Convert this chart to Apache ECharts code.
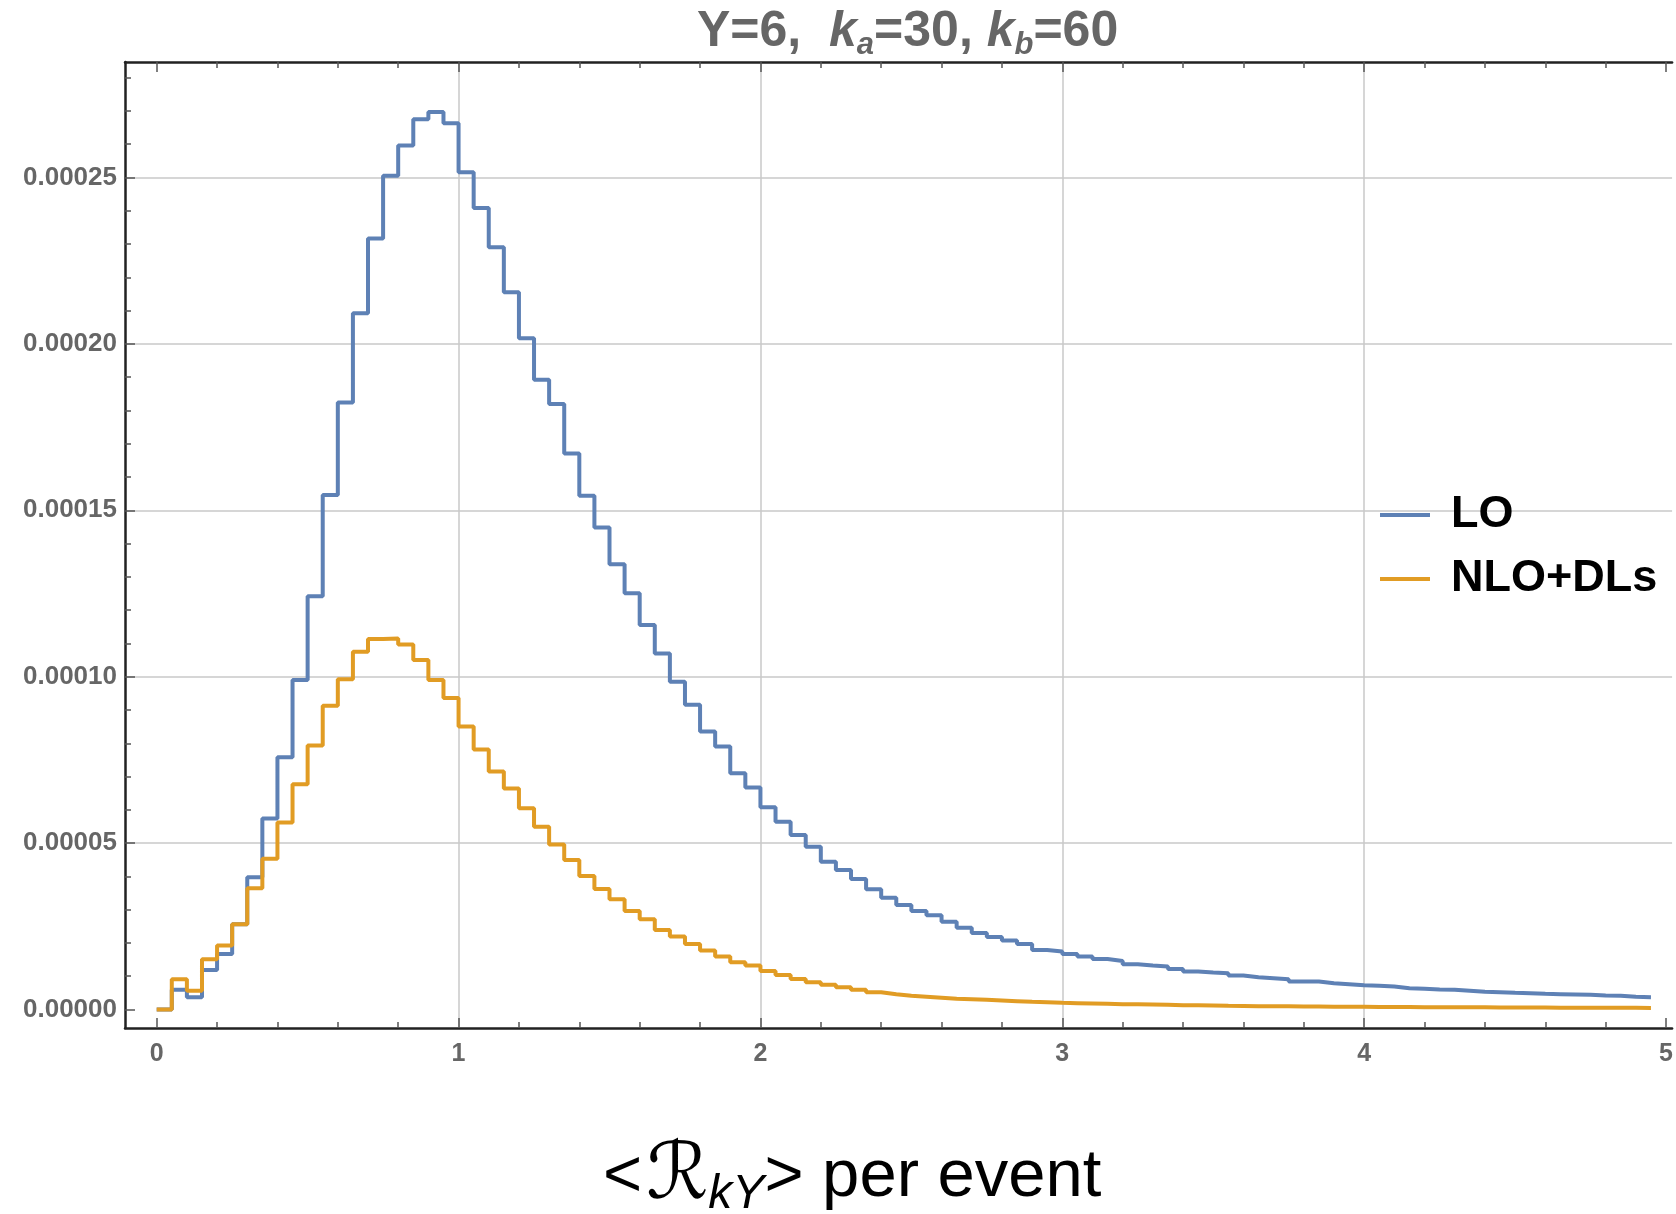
<!DOCTYPE html>
<html>
<head>
<meta charset="utf-8">
<script src="https://cdn.jsdelivr.net/npm/echarts@6/dist/echarts.min.js"></script>
<style>
html, body { margin: 0; padding: 0; background: #fff; }
#chart { width: 1676px; height: 1214px; }
</style>
</head>
<body>
<div id="chart"></div>
<script>
// histogram bin left edges (last entry closes the final bin)
var binEdges = [0, 0.05, 0.1, 0.15, 0.2, 0.25, 0.3, 0.35, 0.4, 0.45,
    0.5, 0.55, 0.6, 0.65, 0.7, 0.75, 0.8, 0.85, 0.9, 0.95,
    1, 1.05, 1.1, 1.15, 1.2, 1.25, 1.3, 1.35, 1.4, 1.45,
    1.5, 1.55, 1.6, 1.65, 1.7, 1.75, 1.8, 1.85, 1.9, 1.95,
    2, 2.05, 2.1, 2.15, 2.2, 2.25, 2.3, 2.35, 2.4, 2.45,
    2.5, 2.55, 2.6, 2.65, 2.7, 2.75, 2.8, 2.85, 2.9, 2.95,
    3, 3.05, 3.1, 3.15, 3.2, 3.25, 3.3, 3.35, 3.4, 3.45,
    3.5, 3.55, 3.6, 3.65, 3.7, 3.75, 3.8, 3.85, 3.9, 3.95,
    4, 4.05, 4.1, 4.15, 4.2, 4.25, 4.3, 4.35, 4.4, 4.45,
    4.5, 4.55, 4.6, 4.65, 4.7, 4.75, 4.8, 4.85, 4.9, 4.95];

// values in units of 1e-5
var loValues = [0, 0.59, 0.37, 1.19, 1.67, 2.56, 3.97, 5.74, 7.58, 9.90,
    12.42, 15.46, 18.24, 20.92, 23.17, 25.05, 25.96, 26.75, 26.97, 26.63,
    25.16, 24.08, 22.90, 21.55, 20.17, 18.92, 18.19, 16.71, 15.44, 14.48,
    13.38, 12.51, 11.55, 10.70, 9.85, 9.16, 8.35, 7.90, 7.10, 6.67,
    6.08, 5.64, 5.24, 4.89, 4.44, 4.19, 3.92, 3.61, 3.36, 3.14,
    2.96, 2.83, 2.64, 2.46, 2.30, 2.18, 2.07, 1.97, 1.79, 1.74,
    1.67, 1.59, 1.52, 1.46, 1.36, 1.32, 1.29, 1.22, 1.14, 1.11,
    1.09, 1.02, 0.97, 0.94, 0.91, 0.84, 0.84, 0.79, 0.76, 0.73,
    0.71, 0.69, 0.64, 0.62, 0.60, 0.59, 0.56, 0.53, 0.52, 0.50,
    0.49, 0.47, 0.46, 0.45, 0.44, 0.42, 0.41, 0.38, 0.37];

var nloValues = [0, 0.91, 0.56, 1.51, 1.92, 2.56, 3.64, 4.53, 5.62, 6.77,
    7.93, 9.13, 9.92, 10.75, 11.13, 11.15, 10.97, 10.50, 9.90, 9.36,
    8.50, 7.81, 7.15, 6.64, 6.05, 5.49, 4.96, 4.49, 4.01, 3.62,
    3.31, 2.96, 2.71, 2.39, 2.19, 1.97, 1.77, 1.59, 1.42, 1.32,
    1.16, 1.04, 0.92, 0.82, 0.74, 0.67, 0.59, 0.52, 0.46, 0.41,
    0.38, 0.35, 0.32, 0.31, 0.29, 0.27, 0.25, 0.23, 0.22, 0.20,
    0.19, 0.18, 0.17, 0.16, 0.155, 0.15, 0.14, 0.13, 0.125, 0.12,
    0.11, 0.105, 0.10, 0.10, 0.095, 0.09, 0.09, 0.085, 0.08, 0.08,
    0.078, 0.075, 0.073, 0.07, 0.07, 0.068, 0.066, 0.065, 0.063, 0.06,
    0.06, 0.058, 0.056, 0.055, 0.054, 0.052, 0.05, 0.05, 0.048];

var seriesNames = ['LO', 'NLO+DLs'];

var xMajorTicks = [0, 1, 2, 3, 4, 5];
var xMinorTicks = [0.2, 0.4, 0.6, 0.8, 1.2, 1.4, 1.6, 1.8, 2.2, 2.4, 2.6, 2.8,
    3.2, 3.4, 3.6, 3.8, 4.2, 4.4, 4.6, 4.8];
var xGridLines = [1, 2, 3, 4];
var yMajorTicks = [0, 5, 10, 15, 20, 25];
var yMinorTicks = [1, 2, 3, 4, 6, 7, 8, 9, 11, 12, 13, 14, 16, 17, 18, 19,
    21, 22, 23, 24, 26, 27, 28];
var yGridLines = [5, 10, 15, 20, 25];

function stepData(values) {
    var d = values.map(function (v, i) { return [binEdges[i], v]; });
    d.push([binEdges[values.length], values[values.length - 1]]);
    return d;
}

var font = 'Liberation Sans, Arial, sans-serif';
var xr = { type: 'value', min: -0.105, max: 5.02 };
var yr = { type: 'value', min: -0.556, max: 28.47 };

var noLine = { show: false, onZero: false };
var frameLine = { show: true, onZero: false, lineStyle: { color: '#222', width: 2.5 } };

function tickAxis(range, ticks, len, extra) {
    return Object.assign({}, range, {
        axisLine: noLine,
        axisTick: { show: len > 0, inside: true, length: len, customValues: ticks,
            lineStyle: { color: '#555', width: 1.5 } },
        axisLabel: { show: false },
        splitLine: { show: false }
    }, extra || {});
}
function gridAxis(range, lines) {
    return Object.assign({}, range, {
        axisLine: noLine,
        axisTick: { show: false, customValues: lines },
        axisLabel: { show: false },
        splitLine: { show: true, lineStyle: { color: '#c8c8c8', width: 1.5 } }
    });
}

var myChart = echarts.init(document.getElementById('chart'));
var option = {
    animation: false,
    backgroundColor: '#fff',
    title: [{
        text: '{n|Y=6,  }{k|k}{s|a}{n|=30, }{k|k}{s|b}{n|=60}',
        left: 697,
        top: 3,
        padding: 0,
        textStyle: {
            rich: {
                n: { fontSize: 50, fontWeight: 'bold', color: '#666', fontFamily: font, lineHeight: 58 },
                k: { fontSize: 50, fontWeight: 'bold', fontStyle: 'italic', color: '#666', fontFamily: font, lineHeight: 58 },
                s: { fontSize: 31, fontWeight: 'bold', fontStyle: 'italic', color: '#666', fontFamily: font, lineHeight: 30, verticalAlign: 'bottom' }
            }
        }
    }, {
        text: '{n|<}{r|ℛ}{s|kY}{n|> per event}',
        left: 603,
        top: 1137,
        padding: 0,
        textStyle: {
            fontWeight: 'normal',
            rich: {
                n: { fontSize: 67, fontWeight: 'normal', color: '#000', fontFamily: font, lineHeight: 82 },
                r: { fontSize: 78, fontWeight: 'normal', color: '#000', fontStyle: 'italic', fontFamily: 'DejaVu Serif, DejaVu Sans, serif', lineHeight: 82, padding: [0, 0, 0, 4] },
                s: { fontSize: 48, fontWeight: 'normal', color: '#000', fontStyle: 'italic', fontFamily: font, lineHeight: 52, verticalAlign: 'bottom' }
            }
        }
    }],
    legend: {
        orient: 'vertical',
        left: 1375,
        top: 487,
        itemWidth: 50,
        itemHeight: 4,
        itemGap: 18,
        icon: 'rect',
        data: seriesNames,
        textStyle: { fontSize: 45, fontWeight: 'bold', color: '#000', fontFamily: font,
            lineHeight: 46, padding: [0, 0, 0, 16] }
    },
    grid: { left: 125, right: 0, top: 62, bottom: 186, containLabel: false },
    xAxis: [
        Object.assign({}, xr, {
            position: 'bottom',
            axisLine: frameLine,
            axisTick: { show: true, inside: true, length: 10, customValues: xMajorTicks,
                lineStyle: { color: '#555', width: 1.5 } },
            axisLabel: { customValues: xMajorTicks, fontSize: 25, fontWeight: 'bold', color: '#666',
                fontFamily: font, margin: 14 },
            splitLine: { show: false }
        }),
        tickAxis(xr, xMajorTicks, 10, { position: 'top', axisLine: frameLine }),
        tickAxis(xr, xMinorTicks, 6, { position: 'bottom' }),
        tickAxis(xr, xMinorTicks, 6, { position: 'top' }),
        gridAxis(xr, xGridLines)
    ],
    yAxis: [
        Object.assign({}, yr, {
            position: 'left',
            axisLine: frameLine,
            axisTick: { show: true, inside: true, length: 10, customValues: yMajorTicks,
                lineStyle: { color: '#555', width: 1.5 } },
            axisLabel: { customValues: yMajorTicks, fontSize: 26, fontWeight: 'bold', color: '#666',
                fontFamily: font, margin: 8,
                formatter: function (v) { return (v / 1e5).toFixed(5); } },
            splitLine: { show: false }
        }),
        // right side of the frame is cut off in the original: no ticks there
        tickAxis(yr, yMajorTicks, 0, { position: 'right' }),
        tickAxis(yr, yMinorTicks, 6, { position: 'left' }),
        tickAxis(yr, yMinorTicks, 0, { position: 'right' }),
        gridAxis(yr, yGridLines)
    ],
    series: [{
        name: seriesNames[0],
        type: 'line',
        step: 'end',
        showSymbol: false,
        data: stepData(loValues),
        color: '#5E81B5',
        lineStyle: { width: 4, color: '#5E81B5' }
    }, {
        name: seriesNames[1],
        type: 'line',
        step: 'end',
        showSymbol: false,
        data: stepData(nloValues),
        color: '#E19C24',
        lineStyle: { width: 4, color: '#E19C24' }
    }]
};
myChart.setOption(option);
</script>
</body>
</html>
